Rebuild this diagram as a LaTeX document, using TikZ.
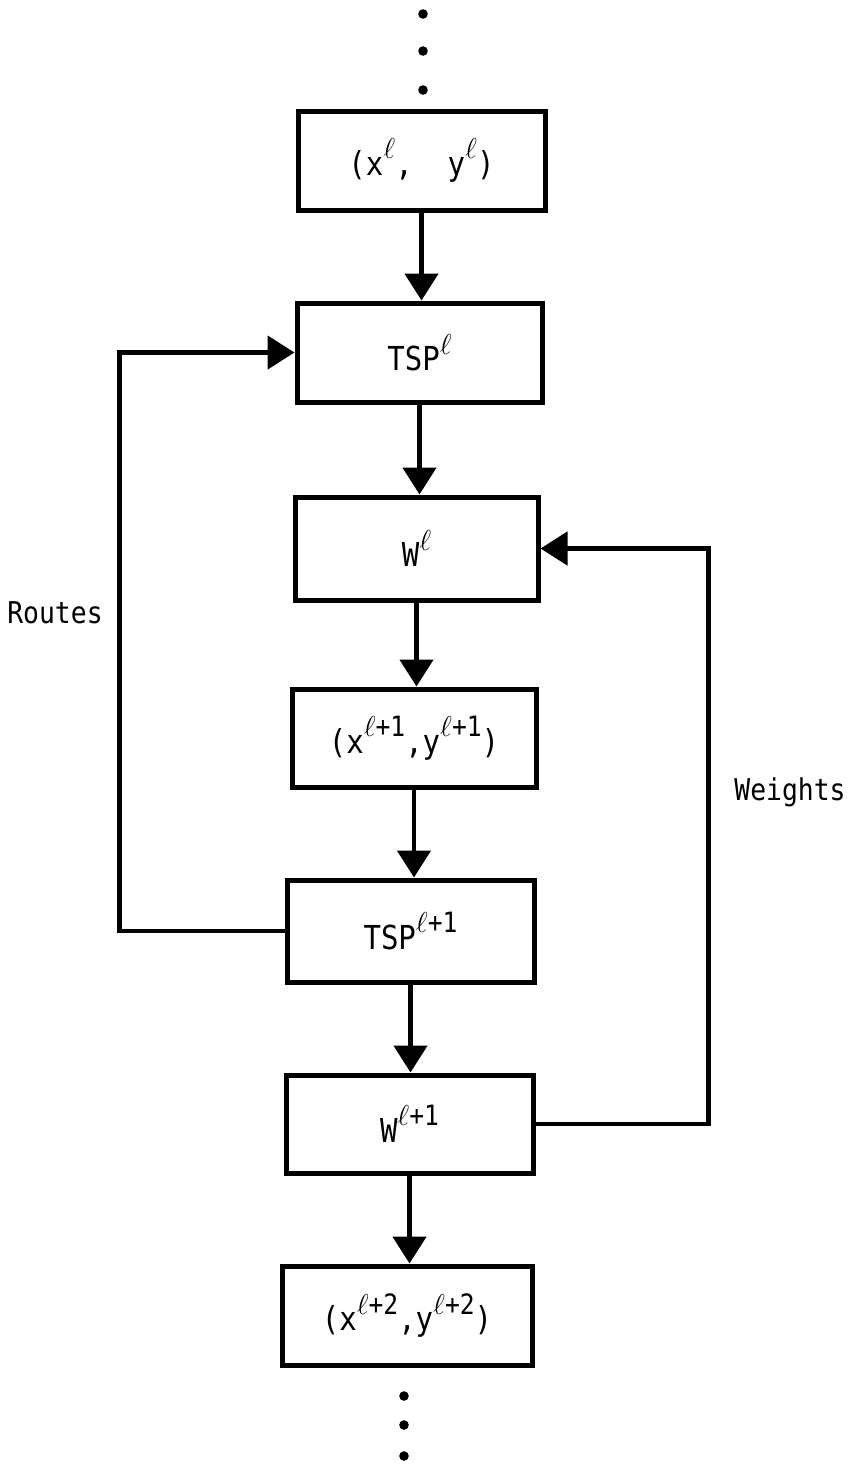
\documentclass[tikz,border=0pt]{standalone}
\usepackage{fontspec}
\usetikzlibrary{arrows.meta}
\newfontfamily\lab[FakeStretch=0.88]{DejaVu Sans Mono}
\newcommand\sups[1]{\raisebox{0.5em}{\fontsize{14}{16}\selectfont #1}}
\newcommand\ellsym{$\ell$}
\begin{document}
\begin{tikzpicture}[x=0.5pt,y=-0.5pt,
  box/.style={draw, line width=2.5pt, inner sep=0pt, font=\lab\fontsize{16.5}{19}\selectfont},
  arr/.style={line width=2.4pt, -{Triangle[length=13.5pt,width=16.5pt]}},
  lbl/.style={font=\lab\fontsize{15}{18}\selectfont, inner sep=0pt}]
\useasboundingbox (0,0) rectangle (851,1464);
% dots
\foreach \yy in {14,51,90} \fill (423,\yy) circle (2.4pt);
\foreach \yy in {1396,1425,1456} \fill (404,\yy) circle (2.4pt);
% boxes
\node[box, minimum width=123.5pt, minimum height=49.5pt] (b1) at (421.5,160.5)
  {(x\sups{\ellsym},\ \ y\sups{\ellsym})};
\node[box, minimum width=122.5pt, minimum height=49.5pt] (b2) at (419.5,352.5)
  {TSP\sups{\ellsym}};
\node[box, minimum width=121.5pt, minimum height=51.5pt] (b3) at (416.5,548.5)
  {W\sups{\ellsym}};
\node[box, minimum width=122pt, minimum height=49pt] (b4) at (414,738)
  {(x\sups{\ellsym+1},y\sups{\ellsym+1})};
\node[box, minimum width=123.5pt, minimum height=51pt] (b5) at (410.5,931)
  {TSP\sups{\ellsym+1}};
\node[box, minimum width=123.5pt, minimum height=49pt] (b6) at (409.5,1124)
  {W\sups{\ellsym+1}};
\node[box, minimum width=125pt, minimum height=49.5pt] (b7) at (407,1315.5)
  {(x\sups{\ellsym+2},y\sups{\ellsym+2})};
% vertical arrows
\draw[arr] (b1.south) -- (b1.south |- b2.north);
\draw[arr] (b2.south) -- (b2.south |- b3.north);
\draw[arr] (b3.south) -- (b3.south |- b4.north);
\draw[arr] (b4.south) -- (b4.south |- b5.north);
\draw[arr] (b5.south) -- (b5.south |- b6.north);
\draw[arr] (b6.south) -- (b6.south |- b7.north);
% feedback loops
\draw[arr, line join=miter] (b5.west) -- ++(-165,0) |- (b2.west);
\draw[arr, line join=miter] (b6.east) -- ++(173,0) |- (b3.east);
% labels
\node[lbl] (routes) at (55,613) {Routes};
\node[lbl] (weights) at (790,792) {Weights};
\end{tikzpicture}
\end{document}
